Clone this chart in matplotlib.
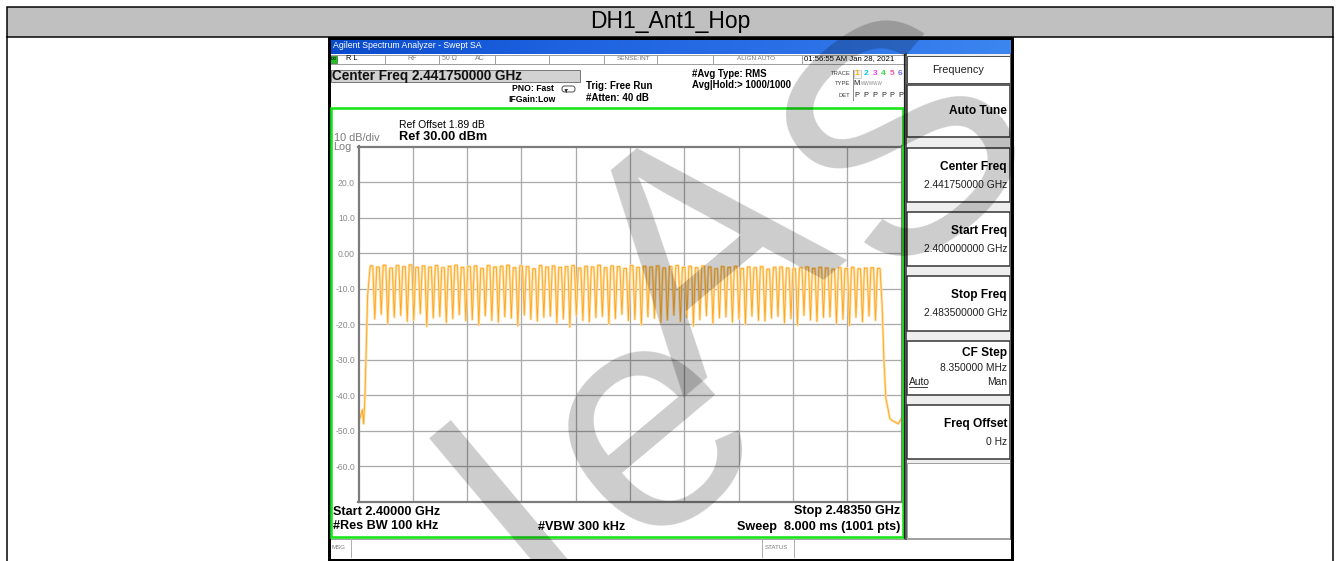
import numpy as np
import matplotlib
matplotlib.use("Agg")
import matplotlib.pyplot as plt
from matplotlib.patches import Rectangle, FancyBboxPatch

plt.rcParams['font.family'] = ['Liberation Sans', 'DejaVu Sans']

W, H = 1338, 561

# sweep settings
start_mhz, stop_mhz = 2400.0, 2483.5
first_ch = 2402   # 79 hopping channels, 1 MHz apart

# channel peak levels (dBm)
peaks = [-3.6, -3.9, -3.4, -4.2, -3.5, -3.8, -3.3, -4.0, -3.6, -3.9,
         -3.5, -4.1, -3.7, -3.4, -4.0, -3.8, -3.6, -4.3, -3.5, -3.9,
         -3.7, -3.4, -4.1, -3.6, -3.8, -4.4, -3.5, -3.9, -3.6, -4.0,
         -3.8, -3.5, -4.2, -3.7, -3.9, -3.4, -4.1, -3.6, -3.8, -4.3,
         -3.5, -4.0, -3.7, -3.9, -3.6, -4.2, -3.8, -3.5, -4.0, -3.7,
         -4.1, -3.6, -3.9, -4.4, -3.8, -4.0, -3.7, -4.3, -3.9, -4.1,
         -3.8, -4.5, -4.0, -3.9, -4.2, -4.4, -4.1, -3.9, -4.3, -4.0,
         -4.2, -4.5, -4.1, -4.3, -4.0, -4.4, -4.2, -4.1, -4.3]
# dips between neighbouring channels (dBm)
dips = [-18.5, -17.2, -19.8, -18.0, -17.5, -19.2, -18.8, -17.0, -20.6, -18.2,
        -17.8, -19.5, -18.4, -17.3, -19.0, -18.7, -20.2, -17.6, -18.9, -19.4,
        -17.9, -18.3, -20.4, -17.4, -18.6, -19.1, -18.0, -17.7, -19.6, -18.5,
        -20.8, -17.5, -18.9, -19.3, -18.1, -17.8, -19.9, -18.4, -17.2, -19.0,
        -18.6, -20.1, -17.9, -18.3, -19.5, -18.8, -17.4, -19.2, -18.0, -20.5,
        -18.7, -17.6, -19.7, -18.2, -17.9, -19.4, -18.5, -20.0, -17.7, -18.9,
        -19.1, -18.3, -17.8, -19.6, -18.4, -20.3, -17.5, -18.8, -19.2, -18.1,
        -17.9, -19.8, -18.6, -20.4, -18.0, -19.3, -17.7, -18.9]
# band edges
lead_f = [2400.0, 2400.3, 2400.6, 2400.8, 2401.0, 2401.2, 2401.4]
lead_db = [-47.5, -46.0, -44.0, -48.0, -40.0, -26.0, -12.0]
tail_f = [2480.5, 2480.8, 2481.1, 2481.4, 2481.7, 2482.0, 2482.5, 2483.0, 2483.5]
tail_db = [-14.0, -30.0, -41.0, -43.5, -46.5, -47.0, -47.5, -48.0, -46.5]

y_ticks = [20, 10, 0, -10, -20, -30, -40, -50, -60]
y_labels = ["20.0", "10.0", "0.00", "-10.0", "-20.0", "-30.0", "-40.0", "-50.0", "-60.0"]

softkeys = [("Auto Tune", None), ("Center Freq", "2.441750000 GHz"),
            ("Start Freq", "2.400000000 GHz"), ("Stop Freq", "2.483500000 GHz"),
            ("CF Step", "8.350000 MHz"), ("Freq Offset", "0 Hz")]

# build the trace
freq = list(lead_f)
level = list(lead_db)
for i, p in enumerate(peaks):
    c = first_ch + i
    freq += [c - 0.2, c + 0.2]
    level += [p, p]
    if i < len(dips):
        freq.append(c + 0.5)
        level.append(dips[i])
freq += tail_f
level += tail_db

fig = plt.figure(figsize=(W / 100, H / 100), dpi=100)

# background canvas in pixel coords
ax0 = fig.add_axes([0, 0, 1, 1])
ax0.set_xlim(0, W)
ax0.set_ylim(H, 0)
ax0.axis('off')

def px(v):
    return v * 0.72

def txt(x, y, s, size, ax=ax0, **kw):
    kw.setdefault('va', 'center')
    kw.setdefault('ha', 'left')
    ax.text(x, y, s, fontsize=size, **kw)

def rect(x0, y0, x1, y1, ax=ax0, **kw):
    ax.add_patch(Rectangle((x0, y0), x1 - x0, y1 - y0, **kw))

# outer table
rect(6.5, 6.5, 1333, 36.5, facecolor='#C0C0C0', edgecolor='black', lw=px(1.5))
ax0.plot([6.5, 6.5], [36.5, H], color='black', lw=px(1.5))
ax0.plot([1333, 1333], [36.5, H], color='black', lw=px(1.5))
txt(670, 21.5, "DH1_Ant1_Hop", 16.5, ha='center')

# screenshot body
rect(329, 38, 1012, 559, facecolor='white', edgecolor='none')
grad = np.linspace(0, 1, 200).reshape(1, -1)
ax0.imshow(grad, extent=(329, 1012, 53.5, 38), aspect='auto',
           cmap=matplotlib.colors.LinearSegmentedColormap.from_list(
               'xp', ['#0A4BCB', '#1E62E0', '#2A6FE6', '#3C86F0']), zorder=1)
txt(333, 45.8, "Agilent Spectrum Analyzer - Swept SA", 6.3, color='white', zorder=2)

# status row
ax0.plot([329, 905], [54.5, 54.5], color='#A0A0A0', lw=px(1))
ax0.plot([329, 905], [63.5, 63.5], color='#A0A0A0', lw=px(1))
for sx in [385.3, 439, 494.5, 548.9, 603.6, 657.3, 712.8, 801.6]:
    ax0.plot([sx, sx], [54.5, 63.5], color='#A0A0A0', lw=px(1))
rect(330, 55.5, 337, 62.5, facecolor='#22C022', edgecolor='#106010', lw=0.4)
txt(333.5, 59, "LXI", 2.6, ha='center', fontweight='bold')
txt(346, 58.8, "R L", 5.3)
txt(407.5, 58.8, "RF", 5, color='#7A7A7A')
txt(441.5, 58.8, "50 \u03a9", 5, color='#7A7A7A')
txt(475, 58.8, "AC", 5, color='#7A7A7A')
txt(617, 58.8, "SENSE:INT", 4.6, color='#7A7A7A')
txt(737, 58.8, "ALIGN AUTO", 4.6, color='#7A7A7A')
txt(804, 58.8, "01:56:55 AM Jan 28, 2021", 5.6)

# header
rect(330.5, 69.5, 580, 82, facecolor='#D2D2D2', edgecolor='#7A7A7A', lw=px(1))
txt(332, 75.8, "Center Freq 2.441750000 GHz", 9.8, fontweight='bold', color='#111111')
txt(554, 88.7, "PNO: Fast", 6.2, ha='right', fontweight='bold')
txt(556, 99.7, "IFGain:Low", 6.2, ha='right', fontweight='bold')
ax0.add_patch(FancyBboxPatch((562, 86), 13, 6, boxstyle='round,pad=0,rounding_size=2.5',
                             facecolor='white', edgecolor='#333333', lw=0.6))
ax0.annotate('', xy=(566, 95.5), xytext=(570, 89),
             arrowprops=dict(arrowstyle='-|>', color='#333333', lw=0.6,
                             mutation_scale=4, connectionstyle='angle,angleA=180,angleB=90'))
txt(586, 85.7, "Trig: Free Run", 7, fontweight='bold')
txt(586, 98, "#Atten: 40 dB", 7, fontweight='bold')
txt(692, 74, "#Avg Type: RMS", 6.9, fontweight='bold')
txt(692, 85.3, "Avg|Hold:> 1000/1000", 6.9, fontweight='bold')

trace_cols = ['#F5B400', '#12C4F0', '#F040F0', '#40D040', '#F05A9A', '#7070F0']
trace_x = [857, 866, 874.8, 883.5, 892.2, 900.5]
ax0.plot([852.8, 852.8], [69.5, 100], color='#909090', lw=px(1))
rect(853.5, 69.5, 861, 77.5, facecolor='#F4F4F4', edgecolor='#B0B0B0', lw=0.4)
txt(850.5, 73, "TRACE", 4.2, ha='right', color='#404040')
txt(850.5, 83.5, "TYPE", 4.2, ha='right', color='#404040')
txt(850.5, 95.5, "DET", 4.2, ha='right', color='#404040')
for k, (tx, tc) in enumerate(zip(trace_x, trace_cols)):
    txt(tx, 73.5, str(k + 1), 6, ha='center', color=tc, fontweight='bold')
    txt(tx, 95.5, "P", 5.3, ha='center', color='#202020')
txt(857, 83.5, "M", 5.3, ha='center', color='#202020')
txt(861, 83.5, "WWWWW", 3.3, ha='left', color='#8A8A8A')

txt(399, 125.3, "Ref Offset 1.89 dB", 7.5)
txt(333.5, 137.8, "10 dB/div", 7.8, color='#7A7A7A')
txt(399, 137, "Ref 30.00 dBm", 9.2, fontweight='bold')
txt(333.5, 146.5, "Log", 7.8, color='#7A7A7A')

# footer
txt(333, 511.7, "Start 2.40000 GHz", 9.1, fontweight='bold')
txt(333, 525.7, "#Res BW 100 kHz", 9.1, fontweight='bold')
txt(538, 527.3, "#VBW 300 kHz", 9.1, fontweight='bold')
txt(900, 511, "Stop 2.48350 GHz", 9.1, ha='right', fontweight='bold')
txt(900, 527.3, "Sweep  8.000 ms (1001 pts)", 9.1, ha='right', fontweight='bold')

ax0.plot([329, 1011], [538.5, 538.5], color='#A0A0A0', lw=px(1))
for sx in [350.7, 762, 794]:
    ax0.plot([sx, sx], [538.5, 557], color='#B0B0B0', lw=px(1))
txt(332, 547.5, "MSG", 4.4, color='#7A7A7A')
txt(765, 547.7, "STATUS", 4.4, color='#7A7A7A')

# softkey panel
rect(905, 54, 1011, 538, facecolor='#EEEEEE', edgecolor='none')
ax0.plot([905.5, 905.5], [54, 538.5], color='#303030', lw=px(1.5))
ax0.plot([1010, 1010], [54, 538.5], color='#606060', lw=px(1))
rect(907, 56, 1009.5, 83, facecolor='white', edgecolor='#505050', lw=px(1))
txt(958, 70, "Frequency", 7.8, ha='center', color='#202020')
boxes = [(85, 137), (148, 202), (212, 266), (276, 331), (341, 395), (405, 459)]
for (y0, y1), (lab, val) in zip(boxes, softkeys):
    rect(907, y0, 1009.5, y1, facecolor='white', edgecolor='#303030', lw=px(1.5))
    if val is None:
        txt(1007, (y0 + y1) / 2 - 0.5, lab, 8.6, ha='right', fontweight='bold')
    elif lab == "CF Step":
        txt(1007, y0 + 12.3, lab, 8.6, ha='right', fontweight='bold')
        txt(1007, y0 + 27.3, val, 7.4, ha='right', color='#202020')
    else:
        txt(1007, y0 + 18.5, lab, 8.6, ha='right', fontweight='bold')
        txt(1007, y0 + 36.7, val, 7.4, ha='right', color='#202020')
txt(909, 381.7, "Auto", 7.4, color='#202020')
ax0.plot([909, 927], [386.8, 386.8], color='#202020', lw=0.6)
txt(1007, 381.7, "Man", 7.4, ha='right', color='#202020')
rect(907, 463, 1009.5, 538, facecolor='white', edgecolor='#A0A0A0', lw=px(1))

# screenshot frame
rect(328.5, 37.5, 1011.5, 559.5, facecolor='none', edgecolor='black', lw=px(3), zorder=4)

# spectrum graticule
x0, x1, yt, yb = 358.5, 901.5, 146.5, 502
ax = fig.add_axes([x0 / W, 1 - yb / H, (x1 - x0) / W, (yb - yt) / H], zorder=2)
ax.set_facecolor('none')
ax.set_xlim(start_mhz, stop_mhz)
ax.set_ylim(-70, 30)
ax.set_xticks(np.linspace(start_mhz, stop_mhz, 11)[1:-1])
ax.set_xticklabels([])
ax.set_yticks(y_ticks)
ax.set_yticklabels(y_labels)
ax.tick_params(length=0, pad=2.5, labelsize=6.2, labelcolor='#8A8A8A')
ax.grid(True, color='#ABABAB', lw=px(1.3))
for sp in ax.spines.values():
    sp.set_color('#7C7C7C')
    sp.set_linewidth(px(2.2))
ax.plot(freq, level, color='#FFDDA0', lw=1.8)
ax.plot(freq, level, color='#FFA51C', lw=0.6)

# top overlay: green frame and watermark
ax2 = fig.add_axes([0, 0, 1, 1], zorder=5)
ax2.set_facecolor('none')
ax2.set_xlim(0, W)
ax2.set_ylim(H, 0)
ax2.axis('off')
rect(331, 108, 902.5, 536.5, ax=ax2, facecolor='none', edgecolor='#19E619', lw=px(2.6))
ax2.plot([904, 904], [54, 538], color='#202020', lw=px(1.2))
for ch, (wx, wy) in zip("leAS", [(531, 530), (652, 432), (713, 266), (912, 150)]):
    ax2.text(wx, wy, ch, fontsize=232, rotation=40, rotation_mode='anchor',
             ha='center', va='center', color='black', alpha=0.2, clip_on=True)

fig.savefig("out.png", dpi=100)
